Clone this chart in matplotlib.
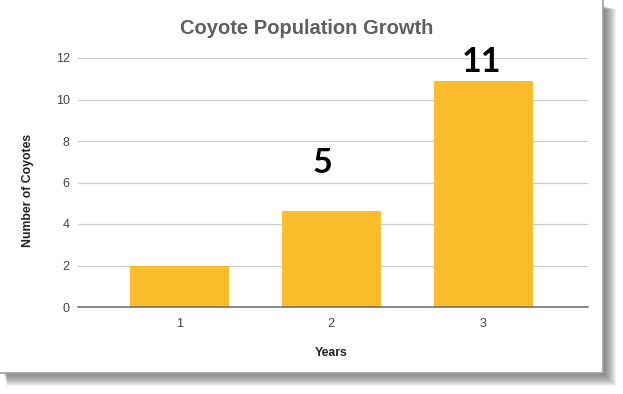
import matplotlib
matplotlib.use('Agg')
import matplotlib.pyplot as plt
from matplotlib.patches import Rectangle

# chart data
years = ['1', '2', '3']
coyotes = [2.0, 4.63, 10.9]
value_labels = ['5', '11']
value_label_pos = [(1.94, 6.95), (2.99, 11.8)]   # (x, y) in data units for labels over bars 2 and 3
y_ticks = [0, 2, 4, 6, 8, 10, 12]

W, H = 623, 394
plt.rcParams['font.family'] = ['Liberation Sans', 'DejaVu Sans']

fig = plt.figure(figsize=(W / 100, H / 100), dpi=100)
fig.patch.set_facecolor('white')


def px_rect(x0, y0, x1, y1, **kw):
    """ rectangle in pixel coords (origin top-left) -> figure fraction """
    return Rectangle((x0 / W, 1 - y1 / H), (x1 - x0) / W, (y1 - y0) / H,
                     transform=fig.transFigure, **kw)


# soft drop shadow behind the card
for k in range(12):
    fig.patches.append(px_rect(4 + k * 0.3, 6 + k * 0.3, 605 + k, 375 + k,
                               facecolor='#444444', edgecolor='none',
                               alpha=0.07, zorder=-20))
# white card
fig.patches.append(px_rect(-2, -2, 603, 373, facecolor='white', edgecolor='#a0a0a0',
                           linewidth=1.2, zorder=-10))

ax = fig.add_axes([78 / W, 1 - 307 / H, 510 / W, 249 / H])
ax.set_facecolor('none')

x = range(1, len(years) + 1)
ax.bar(x, coyotes, width=0.645, color='#fcbd2c', edgecolor='#f9b820', linewidth=0.6, zorder=3)

for lab, (lx, ly) in zip(value_labels, value_label_pos):
    ax.text(lx, ly, lab, ha='center', va='center', fontsize=24.5, fontweight='bold',
            family=['Lato', 'DejaVu Sans'], color='black', zorder=4)

ax.set_xlim(0.335, 3.69)
ax.set_ylim(0, 12)
ax.set_xticks(list(x))
ax.set_xticklabels(years)
ax.set_yticks(y_ticks)
ax.tick_params(axis='both', length=0, labelsize=9, colors='#444444')
ax.tick_params(axis='y', pad=6)
ax.tick_params(axis='x', pad=8)

ax.grid(axis='y', color='#cccccc', linewidth=0.9, zorder=0)
ax.set_axisbelow(True)
for s in ['top', 'right', 'left']:
    ax.spines[s].set_visible(False)
ax.spines['bottom'].set_color('#666666')
ax.spines['bottom'].set_linewidth(1.1)
ax.spines['bottom'].set_zorder(5)

ax.set_ylabel('Number of Coyotes', fontsize=8.8, fontweight='bold', color='#222222')
ax.yaxis.set_label_coords(-0.086, 0.47)
ax.set_xlabel('Years', fontsize=8.8, fontweight='bold', color='#222222')
ax.xaxis.set_label_coords(0.496, -0.161)

fig.text(307 / W, 1 - 28 / H, 'Coyote Population Growth', ha='center', va='center',
         fontsize=14.5, fontweight='bold', color='#5f5f5f')

fig.savefig('out.png', dpi=100)
